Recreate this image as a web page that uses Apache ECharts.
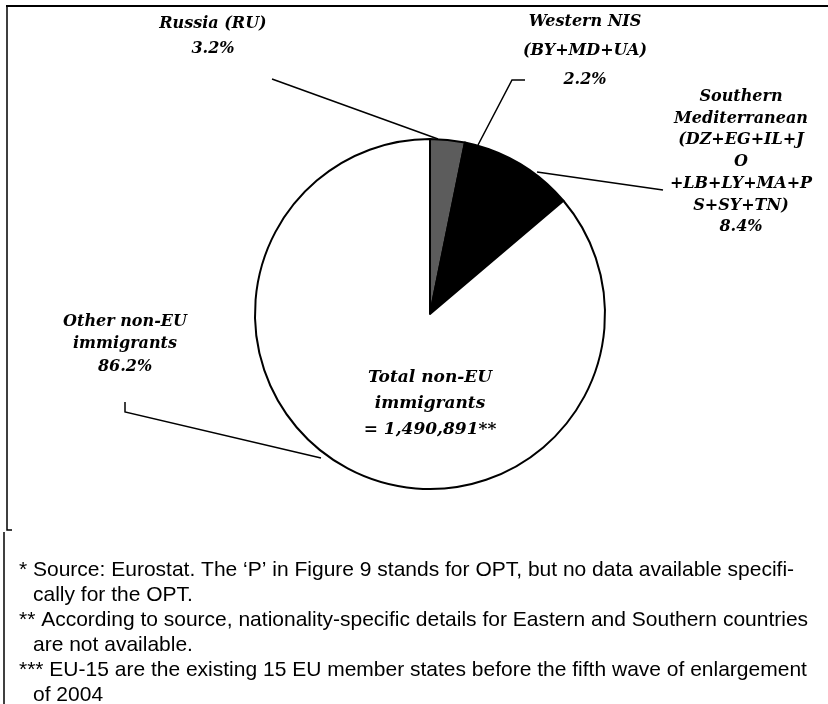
<!DOCTYPE html>
<html>
<head>
<meta charset="utf-8">
<script src="https://cdn.jsdelivr.net/npm/echarts@6/dist/echarts.min.js"></script>
<style>
  html, body { margin: 0; padding: 0; background: #fff; }
  #chart { width: 828px; height: 704px; }
</style>
</head>
<body>
<div id="chart"></div>
<script>
// shares of non-EU immigrants, clockwise from 12 o'clock
const groups = ['Russia (RU)', 'Western NIS\n(BY+MD+UA)', 'Southern\nMediterranean\n(DZ+EG+IL+J\nO\n+LB+LY+MA+P\nS+SY+TN)', 'Other non-EU\nimmigrants']
const shares = [3.2, 2.2, 8.4, 86.2]
const sliceColors = ['#5c5c5c', '#000000', '#000000', '#ffffff']
const totalText = 'Total non-EU\nimmigrants\n= 1,490,891**'
const footnotes = [
    ['* Source: Eurostat. The \u2018P\u2019 in Figure 9 stands for OPT, but no data available specifi-', 0],
    ['cally for the OPT.', 1],
    ['** According to source, nationality-specific details for Eastern and Southern countries', 0],
    ['are not available.', 1],
    ['*** EU-15 are the existing 15 EU member states before the fifth wave of enlargement', 0],
    ['of 2004', 1]
]

// label placement and leader lines (layout only)
const labelSpots = [
    {x: 213, y: 36, lh: 25, line: [[438, 139], [355, 109], [272, 79]]},
    {x: 585, y: 51, lh: 29, line: [[478, 145], [512, 80], [525, 80]]},
    {x: 741, y: 162, lh: 21.7, line: [[537, 172], [600, 181], [663, 190]]},
    {x: 125, y: 344, lh: 22.5, line: [[321, 458], [125, 412], [125, 402]]}
]

const labelFont = {
    fontFamily: 'DejaVu Serif',
    fontStyle: 'italic',
    fontWeight: 'bold',
    fontSize: 16,
    color: '#000'
}

let pieData = groups.map((g, i) => ({
    name: g,
    value: shares[i],
    itemStyle: {color: sliceColors[i]},
    label: {lineHeight: labelSpots[i].lh}
}))

let graphics = [
    {type: 'line', shape: {x1: 6, y1: 6, x2: 828, y2: 6}, style: {stroke: '#000', lineWidth: 2}},
    {type: 'polyline', shape: {points: [[7, 6], [7, 530], [12, 530]]}, style: {stroke: '#000', lineWidth: 1.5, fill: null}},
    {type: 'line', shape: {x1: 4, y1: 532, x2: 4, y2: 704}, style: {stroke: '#000', lineWidth: 1.5}},
    {
        type: 'text', x: 430, y: 404, z: 100,
        style: {text: totalText, align: 'center', verticalAlign: 'middle', lineHeight: 26, fill: '#000',
            font: 'italic bold 17px "DejaVu Serif"'}
    }
]
footnotes.forEach((f, i) => {
    graphics.push({
        type: 'text',
        x: f[1] ? 33 : 19,
        y: 570 + i * 25,
        style: {
            text: f[0],
            fill: '#000',
            font: '21px "Liberation Sans Narrow", "Liberation Sans", sans-serif',
            verticalAlign: 'middle'
        }
    })
})

let option = {
    animation: false,
    backgroundColor: '#fff',
    series: [{
        type: 'pie',
        center: [430, 314],
        radius: 175,
        startAngle: 90,
        clockwise: true,
        avoidLabelOverlap: false,
        data: pieData,
        itemStyle: {borderColor: '#000', borderWidth: 2},
        emphasis: {disabled: true},
        label: Object.assign({
            show: true,
            position: 'outside',
            formatter: p => p.name + '\n' + p.value + '%'
        }, labelFont),
        labelLine: {
            show: true,
            lineStyle: {color: '#000', width: 1.5}
        },
        labelLayout: function (params) {
            const s = labelSpots[params.dataIndex]
            return {
                x: s.x,
                y: s.y,
                align: 'center',
                verticalAlign: 'middle',
                labelLinePoints: s.line
            }
        }
    }],
    graphic: graphics
}

let mychart = echarts.init(document.getElementById('chart'))
mychart.setOption(option)
</script>
</body>
</html>
